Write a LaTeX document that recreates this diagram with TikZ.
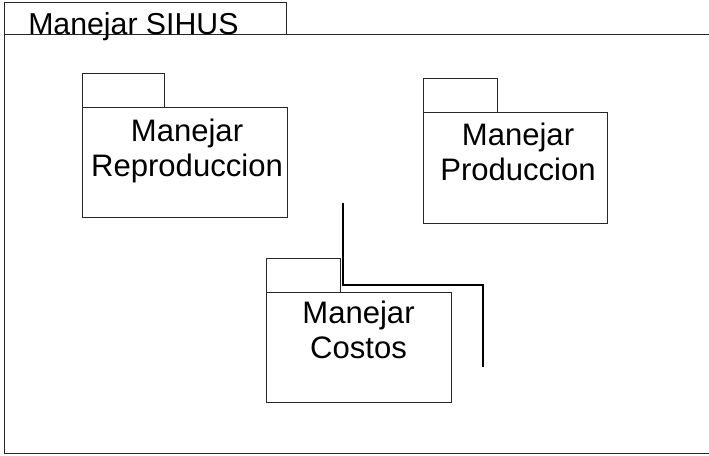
\documentclass[tikz,border=0pt]{standalone}
\usepackage{fontspec}
\setmainfont{Liberation Sans}
\begin{document}
\begin{tikzpicture}[x=0.75pt,y=-0.75pt,
  frame/.style={draw=black!85,line width=0.75pt},
  pkgbody/.style={draw=black!85,line width=0.75pt,rectangle,inner sep=0pt,anchor=north west},
  pkgtab/.style={draw=black!85,line width=0.75pt,rectangle,inner sep=0pt,anchor=north west},
  pkgtext/.style={anchor=north,inner sep=0pt,align=center,font=\fontsize{23.3}{25.9}\selectfont},
  link/.style={draw=black,line width=1.5pt}]
\useasboundingbox (0,0) rectangle (709,455);
% outer package frame
\node[pkgtab,minimum width=282*0.75pt,minimum height=32*0.75pt] (maintab) at (4,2) {};
\draw[frame] (715,34) -- (4,34) -- (4,453) -- (715,453);
\node[anchor=base west,inner sep=0pt,font=\fontsize{22.7}{26}\selectfont] (maintitle) at (28,34) {Manejar SIHUS};
% Manejar Reproduccion
\node[pkgtab,minimum width=82*0.75pt,minimum height=34*0.75pt] (reptab) at (82,73) {};
\node[pkgbody,minimum width=205*0.75pt,minimum height=110*0.75pt] (rep) at (82,107) {};
\node[pkgtext] (reptext) at (187,119) {Manejar\\Reproduccion};
% Manejar Produccion
\node[pkgtab,minimum width=74*0.75pt,minimum height=34*0.75pt] (prodtab) at (423,78) {};
\node[pkgbody,minimum width=184*0.75pt,minimum height=111*0.75pt] (prod) at (423,112) {};
\node[pkgtext] (prodtext) at (518,123) {Manejar\\Produccion};
% Manejar Costos
\node[pkgtab,minimum width=74*0.75pt,minimum height=34*0.75pt] (costtab) at (266,258) {};
\node[pkgbody,minimum width=185*0.75pt,minimum height=110*0.75pt] (cost) at (266,292) {};
\node[pkgtext] (costtext) at (358.5,301) {Manejar\\Costos};
% connector
\coordinate (linkstart) at (343,203);
\coordinate (linkend) at (483,367);
\draw[link] (linkstart) |- (linkend |- 0,285) -- (linkend);
\end{tikzpicture}
\end{document}
